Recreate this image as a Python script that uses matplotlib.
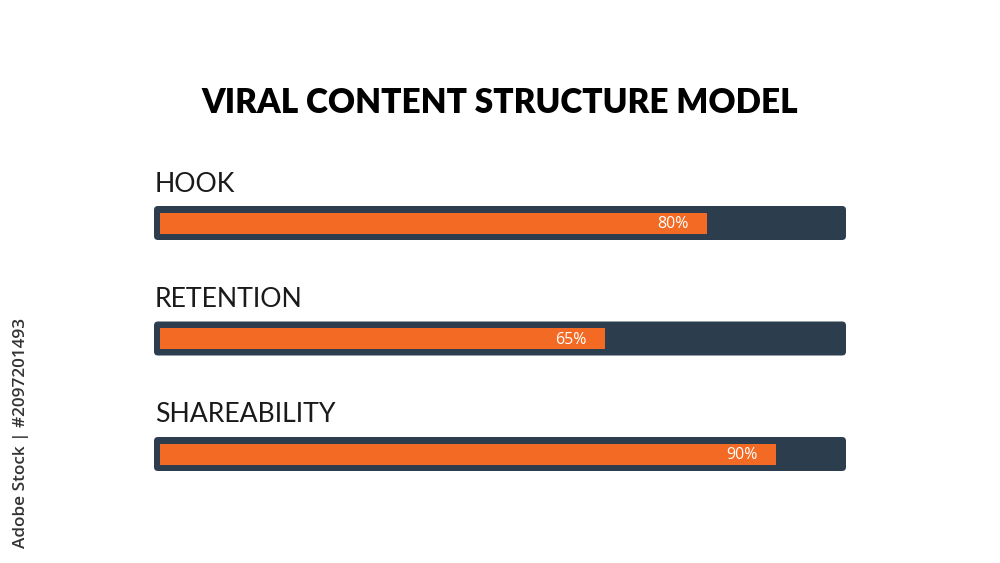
import matplotlib
matplotlib.use('Agg')
from matplotlib import pyplot as plt
from matplotlib.patches import FancyBboxPatch

title = 'VIRAL CONTENT STRUCTURE MODEL'
categories = ['HOOK', 'RETENTION', 'SHAREABILITY']
values = [80, 65, 90]
labels = ['80%', '65%', '90%']

ORANGE = '#f26a23'
DARK = '#2c3e4e'


def main():
    fig = plt.figure(figsize=(10, 5.63), dpi=100)
    fig.patch.set_facecolor('white')

    # axes placed so that 0..100 covers the orange track
    ax = fig.add_axes([0.160, 1 - 511.75 / 563, 0.684, 346.5 / 563])
    ax.set_xlim(0, 100)
    ax.set_ylim(2.5, -0.5)
    ax.axis('off')

    xpp = 100 / 684       # data x per pixel
    ypp = 1 / 115.5       # data y per pixel
    for i, (cat, v, lab) in enumerate(zip(categories, values, labels)):
        h = 34 * ypp
        bg = FancyBboxPatch((-6 * xpp, i - h / 2), 692 * xpp, h,
                            boxstyle='round,pad=0,rounding_size=%f' % (4 * xpp),
                            mutation_aspect=ypp / xpp,
                            facecolor=DARK, edgecolor='none', zorder=1,
                            clip_on=False)
        ax.add_patch(bg)
        ax.barh(i, v, height=21 * ypp, left=0, color=ORANGE, zorder=2)
        ax.text(v - 34 * xpp, i + 1 * ypp, lab, color='white', fontsize=11.5,
                family='Open Sans', ha='center', va='center', zorder=3)
        ax.text(-5 * xpp, i - 39 * ypp, cat, color='#1a1a1a', fontsize=19.2,
                family='Lato', ha='left', va='center', clip_on=False)

    fig.text(0.5, 1 - 103 / 563, title, ha='center', va='center',
             fontsize=24, fontweight='heavy', family='Lato', color='black')

    fig.text(0.021, 1 - 433 / 563, 'Adobe Stock | #2097201493', rotation=90,
             ha='center', va='center', fontsize=12.3, family='Open Sans',
             fontweight='semibold', color='#333333')

    fig.savefig('out.png', dpi=100, facecolor='white')


if __name__ == '__main__':
    main()
